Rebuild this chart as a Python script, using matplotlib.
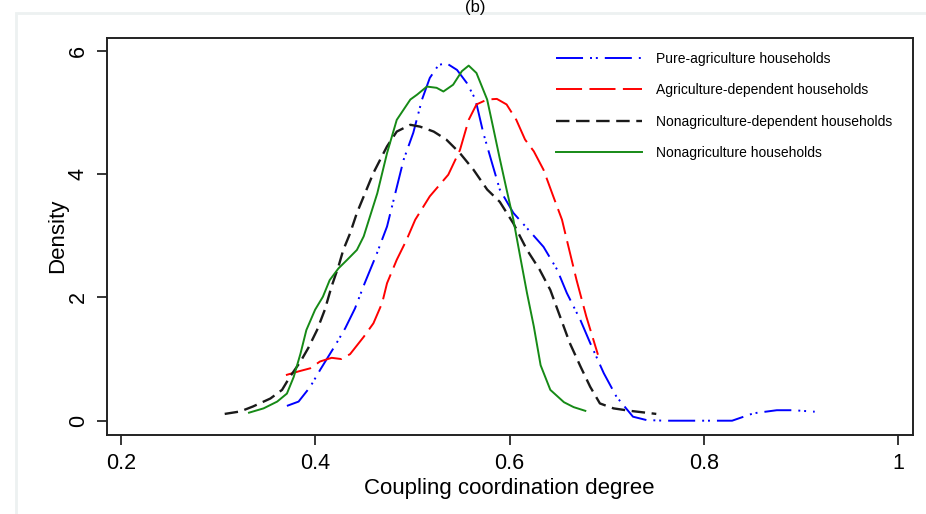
import matplotlib
matplotlib.use("Agg")
import matplotlib.pyplot as plt
from matplotlib.patches import Rectangle

plt.rcParams['font.family'] = ['Liberation Sans', 'DejaVu Sans']

# kernel density curves
pure_x = [0.371, 0.383, 0.395, 0.405, 0.421, 0.431, 0.441, 0.451, 0.463, 0.474,
          0.491, 0.501, 0.510, 0.518, 0.527, 0.535, 0.546, 0.556, 0.565, 0.573,
          0.582, 0.590, 0.604, 0.621, 0.635, 0.649, 0.659, 0.673, 0.683, 0.697,
          0.710, 0.727, 0.741, 0.760, 0.800, 0.829, 0.851, 0.875, 0.892, 0.914]
pure_y = [0.24, 0.31, 0.55, 0.82, 1.23, 1.50, 1.82, 2.23, 2.69, 3.15,
          4.23, 4.67, 5.21, 5.56, 5.77, 5.80, 5.69, 5.48, 5.21, 4.67,
          4.18, 3.75, 3.37, 3.07, 2.82, 2.45, 2.07, 1.63, 1.26, 0.77,
          0.39, 0.065, 0.01, 0.0, 0.0, 0.0, 0.12, 0.17, 0.17, 0.146]

agdep_x = [0.370, 0.383, 0.395, 0.405, 0.417, 0.427, 0.436, 0.450, 0.460, 0.469,
           0.474, 0.484, 0.494, 0.503, 0.518, 0.537, 0.549, 0.558, 0.566, 0.577,
           0.587, 0.597, 0.607, 0.616, 0.625, 0.635, 0.645, 0.654, 0.659, 0.669,
           0.679, 0.691]
agdep_y = [0.74, 0.80, 0.85, 0.96, 1.02, 1.00, 1.08, 1.36, 1.58, 1.91,
           2.23, 2.61, 2.93, 3.26, 3.64, 3.99, 4.39, 4.88, 5.13, 5.21,
           5.22, 5.13, 4.88, 4.56, 4.37, 4.07, 3.64, 3.26, 2.93, 2.28,
           1.69, 1.07]

nonagdep_x = [0.307, 0.323, 0.336, 0.354, 0.366, 0.374, 0.385, 0.393, 0.402, 0.410,
              0.417, 0.424, 0.429, 0.436, 0.443, 0.460, 0.474, 0.484, 0.498, 0.508,
              0.522, 0.535, 0.549, 0.563, 0.577, 0.590, 0.604, 0.618, 0.631, 0.642,
              0.652, 0.662, 0.673, 0.683, 0.693, 0.707, 0.724, 0.751]
nonagdep_y = [0.11, 0.15, 0.23, 0.36, 0.50, 0.71, 0.96, 1.18, 1.47, 1.80,
              2.18, 2.50, 2.77, 3.04, 3.37, 4.02, 4.45, 4.69, 4.80, 4.77,
              4.69, 4.56, 4.34, 4.07, 3.75, 3.55, 3.20, 2.77, 2.45, 2.12,
              1.69, 1.26, 0.88, 0.55, 0.28, 0.20, 0.16, 0.11]

nonag_x = [0.332, 0.347, 0.361, 0.371, 0.378, 0.385, 0.391, 0.400, 0.408, 0.415,
           0.424, 0.433, 0.443, 0.450, 0.464, 0.474, 0.484, 0.498, 0.505, 0.515,
           0.525, 0.532, 0.542, 0.551, 0.558, 0.566, 0.577, 0.583, 0.590, 0.597,
           0.604, 0.611, 0.618, 0.625, 0.632, 0.642, 0.656, 0.666, 0.678]
nonag_y = [0.13, 0.20, 0.31, 0.44, 0.71, 1.09, 1.47, 1.80, 2.01, 2.28,
           2.47, 2.61, 2.77, 2.99, 3.69, 4.34, 4.88, 5.21, 5.29, 5.42,
           5.40, 5.34, 5.45, 5.67, 5.76, 5.64, 5.21, 4.77, 4.25, 3.75,
           3.26, 2.66, 2.07, 1.53, 0.90, 0.50, 0.30, 0.22, 0.16]

labels = ["Pure-agriculture households",
          "Agriculture-dependent households",
          "Nonagriculture-dependent households",
          "Nonagriculture households"]
x_ticks = [0.2, 0.4, 0.6, 0.8, 1]
x_ticklabels = ["0.2", "0.4", "0.6", "0.8", "1"]
y_ticks = [0, 2, 4, 6]

fig = plt.figure(figsize=(9.26, 5.14), dpi=100)

# faint outer frame and the panel title
fig.patches.append(Rectangle((16 / 926, -0.01), 1.0, 1 - 13 / 514 + 0.01,
                             transform=fig.transFigure, fill=False,
                             edgecolor="#edf1f1", linewidth=2.0))
fig.text(475 / 926, 1.0, "(b)", ha="center", va="top", fontsize=12)

ax = fig.add_axes([106.7 / 926, 1 - 435 / 514, 806 / 926, 397.5 / 514])

ax.plot(pure_x, pure_y, color="#0000ff", linewidth=1.4,
        linestyle=(0, (13.9, 3.6, 1, 2, 1, 3.6)), label=labels[0])
ax.plot(agdep_x, agdep_y, color="#ff0000", linewidth=1.4,
        linestyle=(0, (13.4, 3.8)), label=labels[1])
ax.plot(nonagdep_x, nonagdep_y, color="#1a1a1a", linewidth=1.7,
        linestyle=(0, (5.7, 2.8)), label=labels[2])
ax.plot(nonag_x, nonag_y, color="#168a16", linewidth=1.4,
        linestyle="-", label=labels[3])

ax.set_xlim(0.1856, 1.0148)
ax.set_ylim(-0.232, 6.216)
ax.set_xticks(x_ticks)
ax.set_xticklabels(x_ticklabels)
ax.set_yticks(y_ticks)
ax.tick_params(axis="both", direction="out", length=7, width=1.1,
               labelsize=15.5, pad=6)
for lab in ax.get_yticklabels():
    lab.set_rotation(90)
    lab.set_va("center")

for sp in ax.spines.values():
    sp.set_linewidth(1.4)
    sp.set_color("#222222")

ax.set_xlabel("Coupling coordination degree", fontsize=16, labelpad=3)
ax.set_ylabel("Density", fontsize=16, labelpad=0)

ax.legend(loc="upper left", bbox_to_anchor=(556 / 926, 1 - 52 / 514),
          bbox_transform=fig.transFigure, frameon=False, fontsize=10,
          handlelength=6.2, handletextpad=1.0, labelspacing=1.25,
          borderpad=0, borderaxespad=0)

fig.savefig("out.png", dpi=100)
